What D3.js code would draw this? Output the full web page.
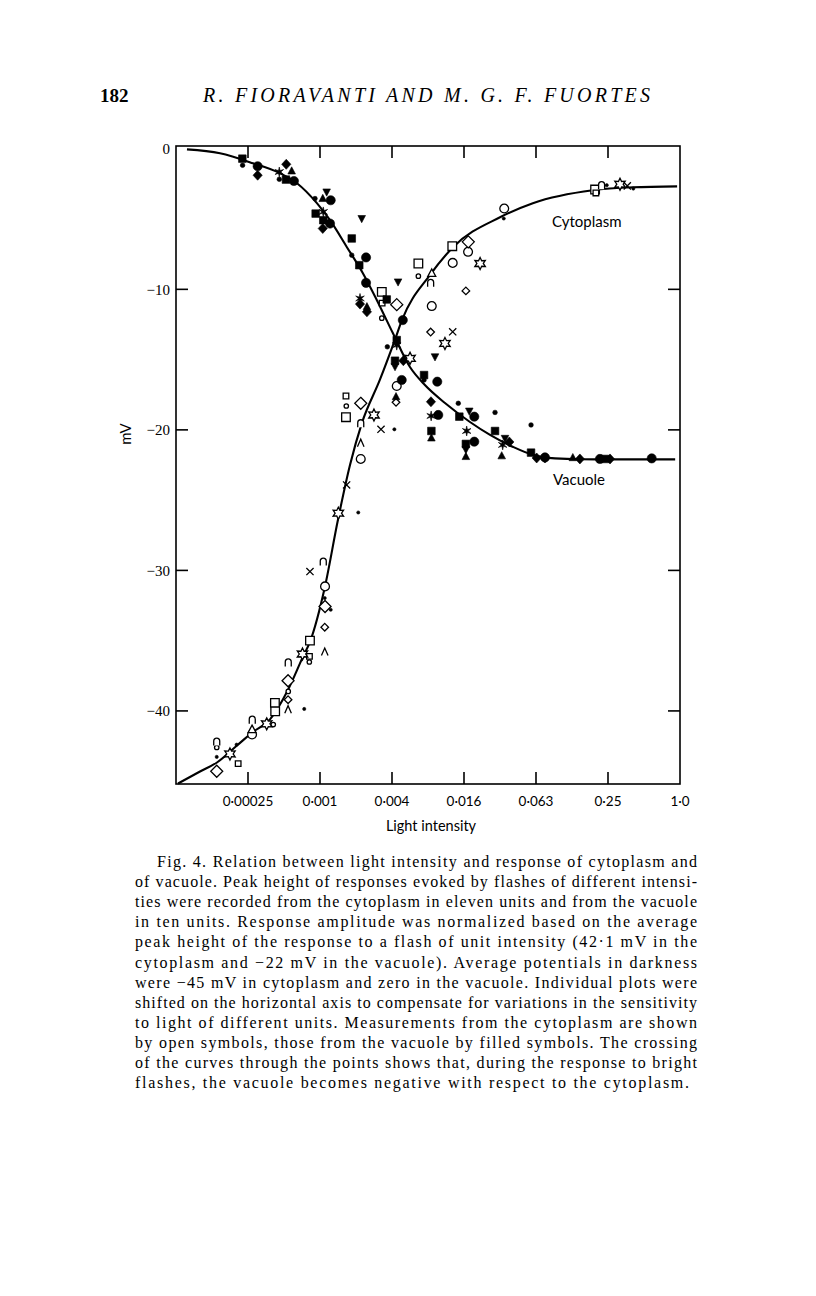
<!DOCTYPE html>
<html><head><meta charset="utf-8">
<script src="https://cdn.jsdelivr.net/npm/d3@7"></script>
<style>
html,body{margin:0;padding:0;background:#fff;}
svg{display:block;}
</style></head>
<body>
<script>
// ---------- data ----------
const xTickValues = [Math.pow(4,-6), Math.pow(4,-5), Math.pow(4,-4), Math.pow(4,-3), Math.pow(4,-2), Math.pow(4,-1), 1];
const xTickLabels = ["0·00025","0·001","0·004","0·016","0·063","0·25","1·0"];
const yTickValues = [0,-10,-20,-30,-40];
const yTickLabels = ["0","−10","−20","−30","−40"];

// fitted curves (intensity, mV)
const cytoplasmCurve = [[6.34e-5,-45.17],[9.69e-5,-44.31],[1.343e-4,-43.67],[1.975e-4,-42.46],[2.64e-4,-41.54],[3.73e-4,-40.6],[5.28e-4,-38.49],[7.04e-4,-36.14],[8.06e-4,-35.07],[1.074e-3,-31.16],[1.38e-3,-26.4],[1.74e-3,-22.5],[2.19e-3,-19.5],[3.09e-3,-16.45],[4.13e-3,-13.6],[4.73e-3,-12.19],[8.1e-3,-8.99],[1.265e-2,-7.0],[3.125e-2,-4.87],[5.88e-2,-3.87],[0.1868,-2.95],[0.404,-2.74],[0.946,-2.67]];
const vacuoleCurve = [[7.54e-5,-0.04],[1.424e-4,-0.32],[2.69e-4,-1.03],[4.52e-4,-1.74],[6.27e-4,-2.45],[9.2e-4,-3.87],[1.184e-3,-5.08],[1.64e-3,-7.0],[2.23e-3,-8.85],[2.92e-3,-10.77],[3.97e-3,-13.11],[5.52e-3,-15.53],[7.36e-3,-16.81],[1.083e-2,-18.09],[1.753e-2,-19.44],[2.58e-2,-20.36],[4.03e-2,-21.22],[5.88e-2,-21.78],[9.0e-2,-22.03],[0.1459,-22.09],[0.315,-22.1],[0.911,-22.1]];

// vacuole: filled symbols
const vacCircle = [[2.94e-4,-1.24],[5.91e-4,-2.29],[1.20e-3,-3.66],[1.184e-3,-5.32],[2.37e-3,-7.73],[2.37e-3,-9.54],[4.81e-3,-12.19],[9.34e-3,-16.57],[4.71e-3,-16.45],[9.52e-3,-18.94],[1.905e-2,-19.06],[1.905e-2,-20.84],[7.43e-2,-21.96],[0.214,-22.07],[0.58,-22.03]];
const vacDot = [[2.20e-4,-1.17],[4.46e-4,-2.17],[8.87e-4,-3.54],[1.80e-3,-7.57],[3.57e-3,-14.09],[7.24e-3,-16.45],[1.40e-2,-18.11],[2.84e-2,-18.76],[5.68e-2,-19.65]];
const vacSquare = [[2.19e-4,-0.70],[5.07e-4,-2.19],[8.98e-4,-4.61],[1.04e-3,-5.08],[1.80e-3,-6.38],[2.08e-3,-8.28],[3.53e-3,-10.72],[4.28e-3,-13.61],[4.14e-3,-15.08],[7.24e-3,-16.1],[1.428e-2,-19.06],[8.34e-3,-20.08],[2.84e-2,-20.08],[1.62e-2,-21.0],[5.68e-2,-21.62],[0.236,-22.07]];
const vacDiamond = [[2.94e-4,-1.88],[5.10e-4,-1.10],[1.03e-3,-5.67],[2.11e-3,-11.05],[2.41e-3,-11.6],[4.86e-3,-15.08],[8.27e-3,-18.0],[3.74e-2,-20.86],[6.33e-2,-22.0],[7.43e-2,-22.0],[0.1455,-22.07],[0.26,-22.07]];
const vacTriangle = [[5.66e-4,-1.58],[1.03e-3,-3.54],[2.41e-3,-11.24],[4.22e-3,-17.64],[8.34e-3,-20.58],[1.62e-2,-21.9],[3.23e-2,-21.85],[0.127,-21.98]];
const vacTriangleDown = [[1.11e-3,-3.07],[2.18e-3,-4.96],[4.39e-3,-9.47],[8.94e-3,-14.8],[1.73e-2,-18.66],[3.44e-2,-20.6],[4.14e-3,-15.5],[1.62e-2,-21.4]];
const vacAsterisk = [[4.46e-4,-1.65],[1.04e-3,-4.49],[2.11e-3,-10.65],[4.28e-3,-13.97],[8.3e-3,-19.01],[1.645e-2,-20.08],[3.29e-2,-21.07]];

// cytoplasm: open symbols
const cytoCircle = [[8.4e-3,-11.19],[4.28e-3,-16.88],[2.14e-3,-22.07],[3.39e-2,-4.25],[1.69e-2,-7.33],[1.257e-2,-8.12],[1.076e-3,-31.14],[2.64e-4,-41.68]];
const cytoSmallCircle = [[6.49e-3,-9.06],[3.21e-3,-12.05],[1.62e-3,-18.3],[7.95e-4,-36.52],[5.3e-4,-38.61],[3.97e-4,-40.97],[1.337e-4,-42.6]];
const cytoSquare = [[6.49e-3,-8.16],[3.21e-3,-10.18],[1.61e-3,-19.1],[1.247e-2,-6.93],[0.195,-2.9],[8.05e-4,-35.0],[4.1e-4,-39.43],[4.12e-4,-40.03]];
const cytoSmallSquare = [[3.23e-3,-10.98],[1.61e-3,-17.59],[7.97e-4,-36.12],[2.02e-4,-43.75],[0.198,-3.14]];
const cytoDiamond = [[4.28e-3,-11.09],[2.14e-3,-18.11],[1.697e-2,-6.62],[1.076e-3,-32.57],[5.28e-4,-37.85],[1.337e-4,-44.29]];
const cytoSmallDiamond = [[1.62e-2,-10.11],[8.22e-3,-13.04],[4.22e-3,-18.04],[1.07e-3,-34.04],[5.28e-4,-39.2]];
const cytoStar = [[1.083e-2,-13.85],[5.53e-3,-14.91],[2.76e-3,-18.94],[2.13e-2,-8.16],[0.315,-2.52],[1.39e-3,-25.93],[6.97e-4,-35.95],[3.5e-4,-40.92],[1.725e-4,-43.06]];
const cytoCross = [[1.257e-2,-13.02],[3.16e-3,-19.96],[0.3625,-2.64],[1.63e-3,-23.92],[8.05e-4,-30.08]];
const cytoArch = [[2.14e-3,-19.53],[8.22e-3,-9.54],[0.221,-2.59],[1.04e-3,-29.37],[5.3e-4,-36.55],[2.65e-4,-40.62],[1.337e-4,-42.18]];
const cytoCaret = [[2.14e-3,-20.95],[1.07e-3,-35.81],[5.28e-4,-39.91]];
const cytoDot = [[4.09e-3,-19.96],[3.36e-2,-4.96],[0.244,-2.59],[0.407,-2.83],[2.04e-3,-25.88],[1.07e-3,-31.97],[1.2e-3,-32.8],[7.21e-4,-39.86],[1.96e-4,-42.4],[1.337e-4,-43.27]];
const cytoTriangle = [[8.4e-3,-8.87],[2.64e-4,-41.33]];

const captionLines = [
 "Fig. 4. Relation between light intensity and response of cytoplasm and",
 "of vacuole. Peak height of responses evoked by flashes of different intensi-",
 "ties were recorded from the cytoplasm in eleven units and from the vacuole",
 "in ten units. Response amplitude was normalized based on the average",
 "peak height of the response to a flash of unit intensity (42·1 mV in the",
 "cytoplasm and −22 mV in the vacuole). Average potentials in darkness",
 "were −45 mV in cytoplasm and zero in the vacuole. Individual plots were",
 "shifted on the horizontal axis to compensate for variations in the sensitivity",
 "to light of different units. Measurements from the cytoplasm are shown",
 "by open symbols, those from the vacuole by filled symbols. The crossing",
 "of the curves through the points shows that, during the response to bright",
 "flashes, the vacuole becomes negative with respect to the cytoplasm."
];

// ---------- drawing ----------
const W = 816, H = 1296;
const svg = d3.select("body").append("svg").attr("width", W).attr("height", H);
const L = 176, R = 680, T = 146, B = 784;
const x = d3.scaleLog().base(4).domain([Math.pow(4,-7), 1]).range([L, R]);
const y = d3.scaleLinear().domain([-45.2, 0.2]).range([B, T]);

const serif = "'Liberation Serif','DejaVu Serif',serif";
const sans = "Lato,'Open Sans','DejaVu Sans',sans-serif";

// header
svg.append("text").attr("x", 100).attr("y", 102).attr("font-family", serif).attr("font-size", 19)
  .attr("font-weight", "bold").text("182");
svg.append("text").attr("x", 203).attr("y", 102).attr("font-family", serif).attr("font-size", 20)
  .attr("font-style", "italic").attr("textLength", 447).attr("lengthAdjust", "spacing")
  .text("R. FIORAVANTI AND M. G. F. FUORTES");

// frame
svg.append("rect").attr("x", L).attr("y", T).attr("width", R - L).attr("height", B - T)
  .attr("fill", "none").attr("stroke", "#000").attr("stroke-width", 1.6);

const tickLen = 12;
const gAx = svg.append("g").attr("stroke", "#000").attr("stroke-width", 1.6);
xTickValues.slice(0, 6).forEach(v => {
  gAx.append("line").attr("x1", x(v)).attr("x2", x(v)).attr("y1", B).attr("y2", B - tickLen);
  gAx.append("line").attr("x1", x(v)).attr("x2", x(v)).attr("y1", T).attr("y2", T + tickLen);
});
yTickValues.slice(1).forEach(v => {
  gAx.append("line").attr("x1", L).attr("x2", L + tickLen).attr("y1", y(v)).attr("y2", y(v));
  gAx.append("line").attr("x1", R).attr("x2", R - tickLen).attr("y1", y(v)).attr("y2", y(v));
});

// tick labels
svg.append("g").selectAll("text").data(xTickValues).join("text")
  .attr("x", d => x(d)).attr("y", 806).attr("text-anchor", "middle")
  .attr("font-family", sans).attr("font-size", 13.5).text((d, i) => xTickLabels[i]);
svg.append("g").selectAll("text").data(yTickValues).join("text")
  .attr("x", 170).attr("y", d => y(d)).attr("dy", "0.35em").attr("text-anchor", "end")
  .attr("font-family", serif).attr("font-size", 15).text((d, i) => yTickLabels[i]);

// axis titles
svg.append("text").attr("x", 431).attr("y", 831).attr("text-anchor", "middle")
  .attr("font-family", sans).attr("font-size", 14.5).text("Light intensity");
svg.append("text").attr("transform", "translate(131,434) rotate(-90)").attr("text-anchor", "middle")
  .attr("font-family", sans).attr("font-size", 15).text("mV");

// curves
const line = d3.line().x(d => x(d[0])).y(d => y(d[1])).curve(d3.curveMonotoneX);
svg.append("path").datum(cytoplasmCurve).attr("d", line).attr("fill", "none").attr("stroke", "#000").attr("stroke-width", 2.1);
svg.append("path").datum(vacuoleCurve).attr("d", line).attr("fill", "none").attr("stroke", "#000").attr("stroke-width", 2.1);

// curve labels
svg.append("text").attr("x", 552).attr("y", 227).attr("font-family", sans).attr("font-size", 15).text("Cytoplasm");
svg.append("text").attr("x", 553).attr("y", 485).attr("font-family", sans).attr("font-size", 15).text("Vacuole");

// symbol paths
function star(ro, ri, n) {
  let p = [];
  for (let i = 0; i < 2 * n; i++) {
    const a = -Math.PI / 2 + i * Math.PI / n;
    const r = i % 2 ? ri : ro;
    p.push([r * Math.cos(a), r * Math.sin(a)]);
  }
  return "M" + p.map(q => q[0].toFixed(2) + "," + q[1].toFixed(2)).join("L") + "Z";
}
const shapes = {
  fcircle: {d: "M4.6,0A4.6,4.6 0 1 1 -4.6,0A4.6,4.6 0 1 1 4.6,0Z", fill: true},
  fdot: {d: "M2.3,0A2.3,2.3 0 1 1 -2.3,0A2.3,2.3 0 1 1 2.3,0Z", fill: true},
  fsquare: {d: "M-3.8,-3.8H3.8V3.8H-3.8Z", fill: true},
  fdiamond: {d: "M0,-5L4.6,0L0,5L-4.6,0Z", fill: true},
  ftri: {d: "M0,-4.2L3.8,3L-3.8,3Z", fill: true},
  ftridown: {d: "M0,4.2L3.8,-3L-3.8,-3Z", fill: true},
  fast: {d: star(5, 1.6, 6), fill: true},
  ocircle: {d: "M4.4,0A4.4,4.4 0 1 1 -4.4,0A4.4,4.4 0 1 1 4.4,0Z", fill: false},
  osmallcircle: {d: "M2.2,0A2.2,2.2 0 1 1 -2.2,0A2.2,2.2 0 1 1 2.2,0Z", fill: false},
  osquare: {d: "M-4.3,-4.3H4.3V4.3H-4.3Z", fill: false},
  osmallsquare: {d: "M-2.8,-2.8H2.8V2.8H-2.8Z", fill: false},
  odiamond: {d: "M0,-6L6,0L0,6L-6,0Z", fill: false},
  osmalldiamond: {d: "M0,-3.8L3.8,0L0,3.8L-3.8,0Z", fill: false},
  ostar: {d: star(6, 3.2, 6), fill: false},
  cross: {d: "M-3.6,-3.6L3.6,3.6M3.6,-3.6L-3.6,3.6", fill: false},
  arch: {d: "M-3,4V-0.5A3,3 0 0 1 3,-0.5V4", fill: false},
  caret: {d: "M-3.3,3.5L0,-4L3.3,3.5", fill: false},
  dot: {d: "M1.6,0A1.6,1.6 0 1 1 -1.6,0A1.6,1.6 0 1 1 1.6,0Z", fill: true},
  otri: {d: "M0,-4.5L4,3L-4,3Z", fill: false}
};
function drawSymbols(data, type) {
  const s = shapes[type];
  svg.append("g").selectAll("path").data(data).join("path")
    .attr("transform", d => `translate(${x(d[0])},${y(d[1])})`)
    .attr("d", s.d)
    .attr("fill", s.fill ? "#000" : "#fff")
    .attr("stroke", "#000")
    .attr("stroke-width", s.fill ? 0.6 : 1.3)
    .attr("stroke-linejoin", "miter");
}
// cytoplasm (open)
drawSymbols(cytoCircle, "ocircle");
drawSymbols(cytoSmallCircle, "osmallcircle");
drawSymbols(cytoSquare, "osquare");
drawSymbols(cytoSmallSquare, "osmallsquare");
drawSymbols(cytoDiamond, "odiamond");
drawSymbols(cytoSmallDiamond, "osmalldiamond");
drawSymbols(cytoStar, "ostar");
drawSymbols(cytoCross, "cross");
drawSymbols(cytoArch, "arch");
drawSymbols(cytoCaret, "caret");
drawSymbols(cytoDot, "dot");
drawSymbols(cytoTriangle, "otri");
// vacuole (filled)
drawSymbols(vacCircle, "fcircle");
drawSymbols(vacDot, "fdot");
drawSymbols(vacSquare, "fsquare");
drawSymbols(vacDiamond, "fdiamond");
drawSymbols(vacTriangle, "ftri");
drawSymbols(vacTriangleDown, "ftridown");
drawSymbols(vacAsterisk, "fast");

// caption
const capLeft = 135, capRight = 697, capTop = 867, capStep = 20.1;
const cap = svg.append("g").attr("font-family", serif).attr("font-size", 16);
captionLines.forEach((t, i) => {
  const x0 = i === 0 ? 157 : capLeft;
  const last = i === captionLines.length - 1;
  const txt = cap.append("text").attr("x", x0).attr("y", capTop + i * capStep).text(t);
  txt.attr("textLength", (last ? 689 : capRight) - x0).attr("lengthAdjust", "spacing");
});
</script>
</body></html>
